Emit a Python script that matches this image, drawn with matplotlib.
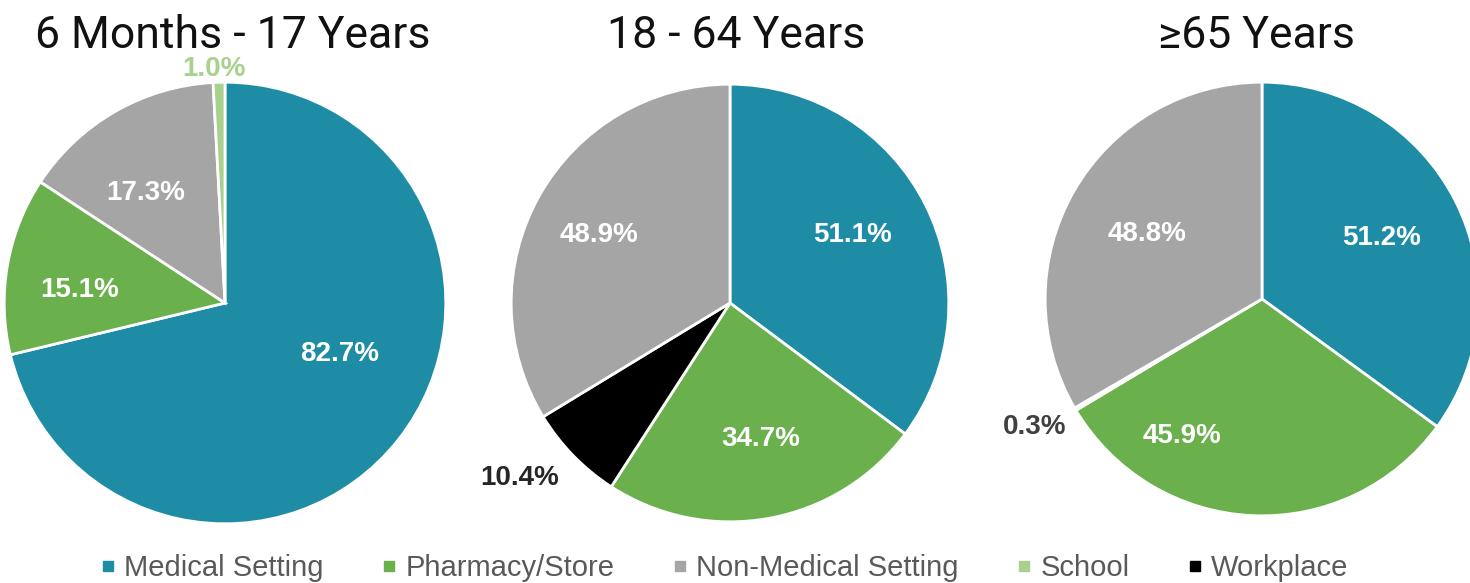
import matplotlib
matplotlib.use('Agg')
import matplotlib.pyplot as plt
from matplotlib.lines import Line2D

# data (labels show the raw percents, slices are normalised by pie)
titles = ['6 Months - 17 Years', '18 - 64 Years', '≥65 Years']
settings = ['Medical Setting', 'Pharmacy/Store', 'Non-Medical Setting', 'School', 'Workplace']
colors = {'Medical Setting': '#1F8CA5', 'Pharmacy/Store': '#6AB04C',
          'Non-Medical Setting': '#A5A5A5', 'School': '#A9D18E', 'Workplace': '#000000'}

kids_cats = ['Medical Setting', 'Pharmacy/Store', 'Non-Medical Setting', 'School']
kids_vals = [82.7, 15.1, 17.3, 1.0]
adult_cats = ['Medical Setting', 'Pharmacy/Store', 'Workplace', 'Non-Medical Setting']
adult_vals = [51.1, 34.7, 10.4, 48.9]
senior_cats = ['Medical Setting', 'Pharmacy/Store', 'Workplace', 'Non-Medical Setting']
senior_vals = [51.2, 45.9, 0.3, 48.8]

# where the percent labels go (pie radius units) and their colours
kids_lab = [(0.52, -0.23), (-0.66, 0.06), (-0.36, 0.50), (-0.05, 1.06)]
adult_lab = [(0.56, 0.31), (0.14, -0.62), (-0.96, -0.80), (-0.60, 0.31)]
senior_lab = [(0.55, 0.28), (-0.37, -0.63), (-1.05, -0.59), (-0.53, 0.30)]
kids_tc = ['white', 'white', 'white', '#A9D18E']
adult_tc = ['white', 'white', '#262626', 'white']
senior_tc = ['white', 'white', '#404040', 'white']

W, H = 1470, 583
fig = plt.figure(figsize=(W / 100, H / 100), dpi=100)

pies = [(kids_cats, kids_vals, kids_lab, kids_tc, 225, 303, 223, 233),
        (adult_cats, adult_vals, adult_lab, adult_tc, 730, 303, 221, 736),
        (senior_cats, senior_vals, senior_lab, senior_tc, 1262, 299, 219, 1256)]

for i, (cats, vals, labs, tcs, cx, cy, r, tx) in enumerate(pies):
    ax = fig.add_axes([(cx - r) / W, (H - cy - r) / H, 2 * r / W, 2 * r / H])
    ax.pie(vals, colors=[colors[c] for c in cats], startangle=90, counterclock=False,
           radius=1, wedgeprops=dict(edgecolor='white', linewidth=2))
    for v, (x, y), tc in zip(vals, labs, tcs):
        ax.text(x, y, f'{v:.1f}%', ha='center', va='center', color=tc, fontsize=20,
                fontweight='bold', family='Liberation Sans')
    ax.set_xlim(-1.01, 1.01)
    ax.set_ylim(-1.01, 1.01)
    ax.set_aspect('equal')
    ax.axis('off')
    for a in ax.patches + ax.texts:
        a.set_clip_on(False)
    fig.text(tx / W, 1 - 36 / H, titles[i], ha='center', va='center', fontsize=32,
             family=['Roboto', 'DejaVu Sans'], color='#111111')

handles = [Line2D([], [], marker='s', linestyle='none', markersize=7, color=colors[s]) for s in settings]
fig.legend(handles, settings, loc='center', bbox_to_anchor=(0.493, 0.026), ncol=5, frameon=False,
           prop=dict(family='Liberation Sans', size=21), labelcolor='#595959',
           handlelength=0.5, handletextpad=0.3, columnspacing=2.0, borderpad=0)

fig.savefig('out.png', dpi=100)
